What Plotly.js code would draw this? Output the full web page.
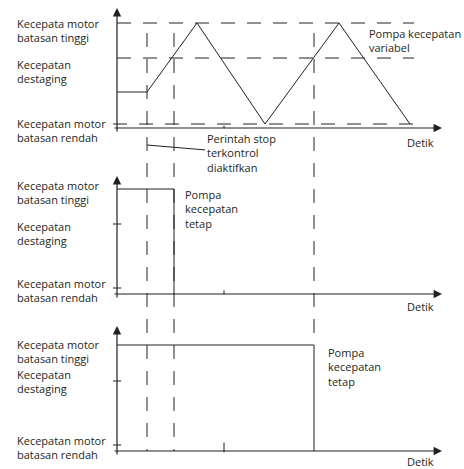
<!DOCTYPE html>
<html>
<head>
<meta charset="utf-8">
<script src="https://cdn.plot.ly/plotly-3.0.1.min.js"></script>
<style>
  body { margin: 0; background: #fff; }
  #plot { width: 464px; height: 469px; }
</style>
</head>
<body>
<div id="plot"></div>
<script>
// speed levels, measured upward from the time axis
var levelNames = ['Kecepatan motor<br>batasan rendah', 'Kecepatan<br>destaging', 'Kecepata motor<br>batasan tinggi'];
var levelValues = [4, 70, 105];
var levelTicks = [6, 70];
var refStart = [-0.4, 0, 0];
var refEnd = 29.7;

// variable speed pump
var varTime = [0, 3.0, 8.0, 14.8, 22.2, 29.3];
var varSpeed = [36, 36, 105, 4, 105, 4];

// fixed speed pump 1 and 2
var fixed1Time = [0, 5.7, 5.7];
var fixed1Speed = [105, 105, 0];
var fixed2Time = [0, 19.7, 19.7];
var fixed2Speed = [106, 106, 0];

// events (vertical dashed lines) and the small tick on the time axis
var eventTimes = [3.0, 5.7, 19.7];
var minorTick = 10.7;
var axisEnd = 32.5;

var W = 464, H = 469, L = 113, R = 22;
var ink = '#231f20';
var dash = '14px,12px';

// pixel -> paper helper for text placement
function px(x, y) {
  return {x: (x - L) / (W - L - R), y: 1 - y / H};
}
function dom(topPx, axisPx) {
  return [1 - (axisPx + 4) / H, 1 - topPx / H];
}

var panels = [
  {x: 'x', y: 'y', top: 8, axis: 128, tick: 2, detik: 142},
  {x: 'x2', y: 'y2', top: 176, axis: 294, tick: 3, detik: 306},
  {x: 'x3', y: 'y3', top: 326, axis: 451, tick: 7, detik: 461}
];

var data = [];

// dashed reference levels in the top panel
levelValues.forEach(function (v, i) {
  data.push({
    x: [refStart[i], refEnd], y: [v, v],
    mode: 'lines', type: 'scatter', xaxis: 'x', yaxis: 'y',
    line: {color: ink, width: 1, dash: dash}, hoverinfo: 'skip'
  });
});

data.push({
  x: varTime, y: varSpeed, mode: 'lines', type: 'scatter',
  xaxis: 'x', yaxis: 'y', line: {color: ink, width: 1}
});
data.push({
  x: fixed1Time, y: fixed1Speed, mode: 'lines', type: 'scatter',
  xaxis: 'x2', yaxis: 'y2', line: {color: ink, width: 1}
});
data.push({
  x: fixed2Time, y: fixed2Speed, mode: 'lines', type: 'scatter',
  xaxis: 'x3', yaxis: 'y3', line: {color: ink, width: 1}
});

// level ticks on the lower two speed axes, minor tick on every time axis
panels.forEach(function (p, i) {
  if (i > 0) {
    data.push({
      x: levelTicks.map(function () { return 0; }), y: levelTicks,
      mode: 'markers', type: 'scatter', xaxis: p.x, yaxis: p.y,
      marker: {symbol: 'line-ew', size: 6, line: {color: ink, width: 1}}
    });
  }
  data.push({
    x: [minorTick], y: [p.tick / 2],
    mode: 'markers', type: 'scatter', xaxis: p.x, yaxis: p.y,
    marker: {symbol: 'line-ns', size: p.tick, line: {color: ink, width: 1}}
  });
});

var layout = {
  width: W, height: H,
  margin: {l: L, r: R, t: 0, b: 0, pad: 0},
  showlegend: false,
  paper_bgcolor: '#fff', plot_bgcolor: 'rgba(0,0,0,0)',
  font: {family: 'Open Sans, sans-serif', size: 11, color: ink},
  annotations: [],
  shapes: []
};

panels.forEach(function (p, i) {
  var s = i === 0 ? '' : String(i + 1);
  layout['xaxis' + s] = {
    domain: [0, 1], range: [-0.4, axisEnd], anchor: 'y' + s, visible: false
  };
  layout['yaxis' + s] = {
    domain: dom(p.top, p.axis), range: [-4, p.axis - p.top], anchor: 'x' + s, visible: false
  };
  // axis arrows
  layout.annotations.push({
    xref: p.x, yref: p.y, axref: p.x, ayref: p.y,
    x: axisEnd, y: 0, ax: -0.4, ay: 0, text: '', showarrow: true,
    arrowhead: 2, arrowsize: 1.4, arrowwidth: 1.2, arrowcolor: ink
  });
  layout.annotations.push({
    xref: p.x, yref: p.y, axref: p.x, ayref: p.y,
    x: 0, y: p.axis - p.top, ax: 0, ay: -5, text: '', showarrow: true,
    arrowhead: 2, arrowsize: 1.4, arrowwidth: 1.2, arrowcolor: ink
  });
  // "Detik" under each time axis
  var d = px(420, p.detik);
  layout.annotations.push({
    xref: 'paper', yref: 'paper', x: d.x, y: d.y, text: 'Detik',
    showarrow: false, xanchor: 'center', yanchor: 'middle'
  });
});

// level labels on the left of each panel
var labelRows = [[130, 72, 30], [290, 233, 192], [447, 381, 351]];
labelRows.forEach(function (row) {
  row.forEach(function (yPx, k) {
    var q = px(15, yPx);
    layout.annotations.push({
      xref: 'paper', yref: 'paper', x: q.x, y: q.y, text: levelNames[k],
      showarrow: false, xanchor: 'left', yanchor: 'middle', align: 'left'
    });
  });
});

var notes = [
  {text: 'Pompa kecepatan<br>variabel', x: 367, y: 41},
  {text: 'Pompa<br>kecepatan<br>tetap', x: 183, y: 209},
  {text: 'Pompa<br>kecepatan<br>tetap', x: 326, y: 367}
];
notes.forEach(function (n) {
  var q = px(n.x, n.y);
  layout.annotations.push({
    xref: 'paper', yref: 'paper', x: q.x, y: q.y, text: n.text,
    showarrow: false, xanchor: 'left', yanchor: 'middle', align: 'left'
  });
});

// stop command note with its pointer line to the first event
var tip = px(0, 145);
layout.annotations.push({
  xref: 'x', yref: 'paper', x: eventTimes[0], y: tip.y,
  text: 'Perintah stop<br>terkontrol<br>diaktifkan', align: 'left',
  showarrow: true, arrowhead: 0, arrowwidth: 1, arrowcolor: ink,
  ax: 94, ay: 8
});

// vertical dashed event lines across the panels (drawn top-down so the dash starts at the top)
var y3 = layout.yaxis3;
function paperY3(v) {
  return y3.domain[0] + (v - y3.range[0]) / (y3.range[1] - y3.range[0]) * (y3.domain[1] - y3.domain[0]);
}
eventTimes.forEach(function (t, i) {
  var bottom = i < 2 ? paperY3(0) : paperY3(fixed2Speed[0]);
  layout.shapes.push({
    type: 'line', xref: 'x', yref: 'paper', x0: t, x1: t,
    y0: px(0, 33).y, y1: bottom,
    line: {color: ink, width: 1, dash: dash}
  });
});

Plotly.newPlot('plot', data, layout, {staticPlot: true, displayModeBar: false});
</script>
</body>
</html>
